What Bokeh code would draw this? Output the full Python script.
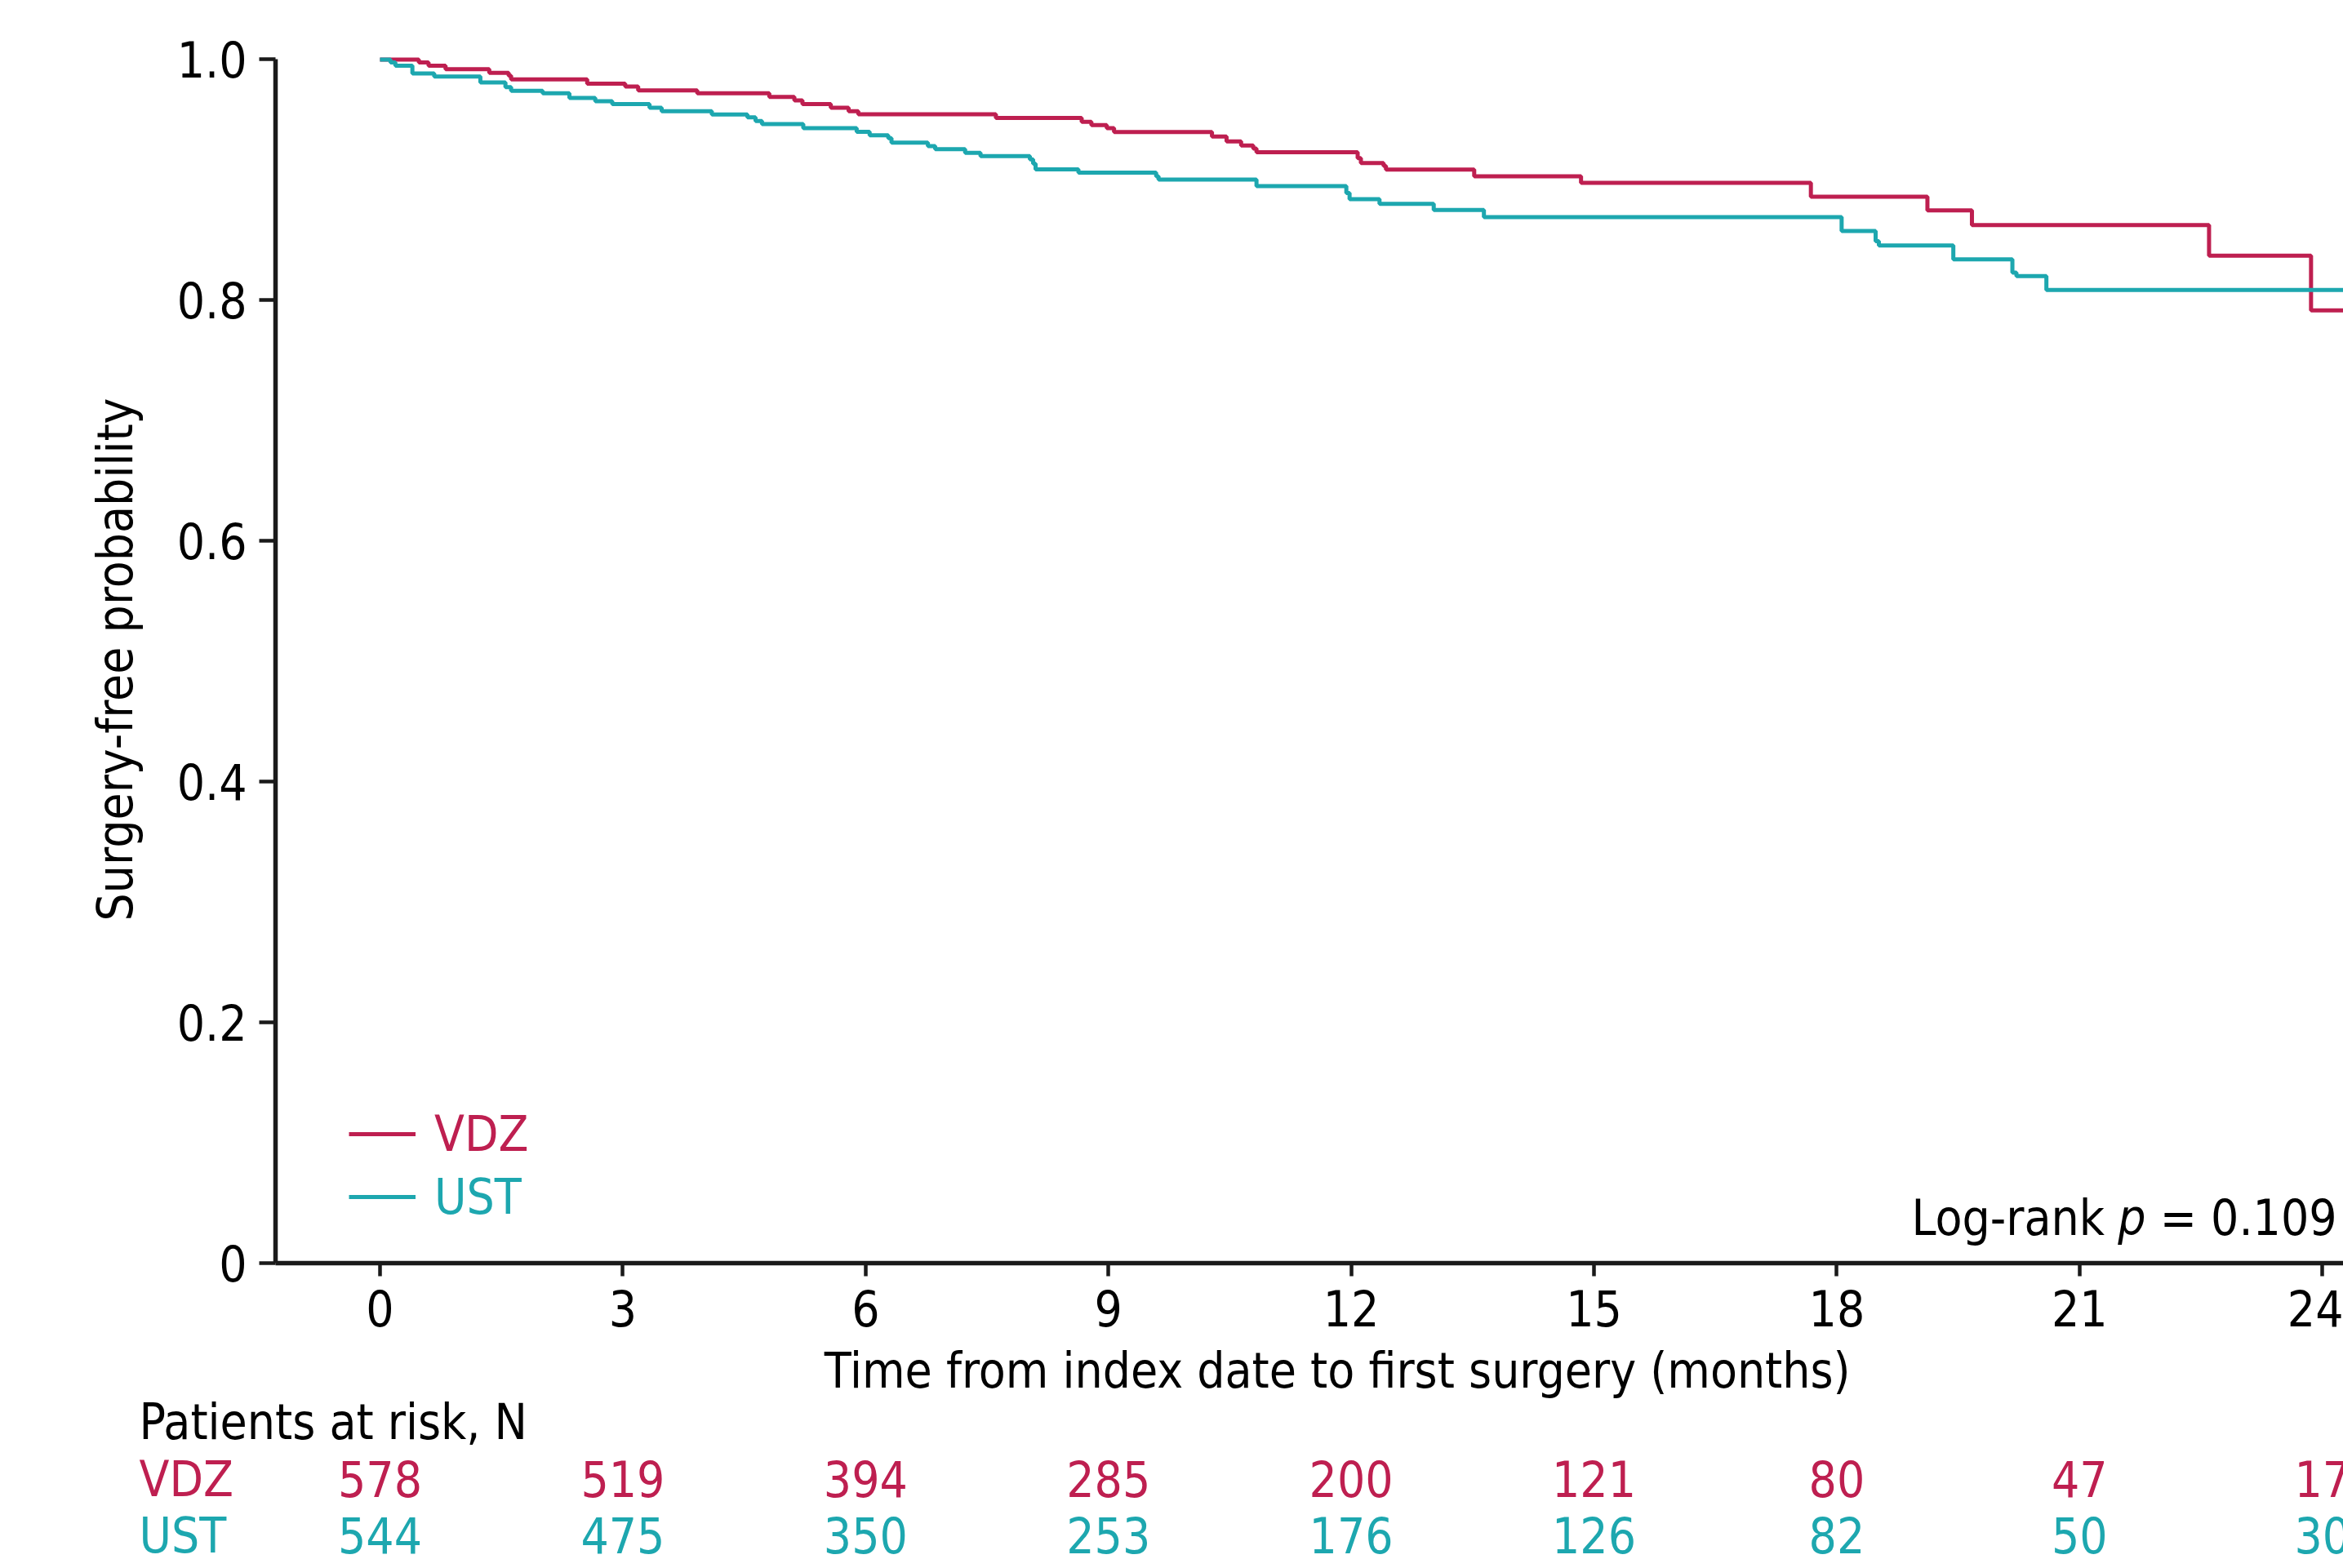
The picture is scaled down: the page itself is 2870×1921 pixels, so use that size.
from bokeh.plotting import figure
from bokeh.layouts import column
from bokeh.models import Range1d, FixedTicker, Label, Legend, LegendItem
from bokeh.core.properties import value
from bokeh.embed import file_html
from bokeh.resources import INLINE

# ---------------- data ----------------
vdz_t = [0, 0.48, 0.60, 0.81, 1.35, 1.59, 1.62, 2.56, 3.03, 3.19, 3.92, 4.81, 5.12, 5.22,
         5.57, 5.79, 5.91, 7.61, 8.67, 8.79, 8.98, 9.07, 10.28, 10.46, 10.64, 10.79, 10.83,
         12.08, 12.12, 12.40, 12.43, 13.52, 14.84, 17.68, 19.12, 19.67, 22.60, 23.86, 24.5]
vdz_s = [1.0, 0.9975, 0.9948, 0.992, 0.989, 0.9866, 0.9835, 0.980, 0.9776, 0.9744, 0.972,
         0.969, 0.966, 0.963, 0.960, 0.957, 0.9545, 0.9515, 0.9483, 0.9456, 0.943, 0.9398,
         0.936, 0.932, 0.9285, 0.926, 0.923, 0.918, 0.914, 0.9116, 0.9086, 0.903, 0.8976,
         0.886, 0.8747, 0.8625, 0.837, 0.7915, 0.7915]

ust_t = [0, 0.13, 0.19, 0.40, 0.67, 1.24, 1.55, 1.62, 2.01, 2.34, 2.66, 2.87, 3.33, 3.48,
         4.10, 4.54, 4.64, 4.72, 5.23, 5.89, 6.05, 6.28, 6.32, 6.77, 6.86, 7.23, 7.42, 8.03,
         8.07, 8.10, 8.63, 9.59, 9.62, 10.83, 11.94, 11.98, 12.35, 13.02, 13.64, 18.06,
         18.48, 18.52, 19.44, 20.17, 20.22, 20.59, 24.5]
ust_s = [1.0, 0.9975, 0.9948, 0.9885, 0.9858, 0.981, 0.977, 0.974, 0.972, 0.968, 0.9654,
         0.963, 0.960, 0.957, 0.9543, 0.952, 0.949, 0.9464, 0.943, 0.940, 0.937, 0.9347,
         0.931, 0.928, 0.9255, 0.9225, 0.9197, 0.917, 0.9135, 0.9088, 0.906, 0.903, 0.9003,
         0.8948, 0.889, 0.884, 0.880, 0.875, 0.869, 0.8575, 0.849, 0.8455, 0.834, 0.823,
         0.820, 0.8085, 0.8085]

risk_times = [0, 3, 6, 9, 12, 15, 18, 21, 24]
vdz_risk = [578, 519, 394, 285, 200, 121, 80, 47, 17]
ust_risk = [544, 475, 350, 253, 176, 126, 82, 50, 30]

x_ticks = [0, 3, 6, 9, 12, 15, 18, 21, 24]
y_ticks = [0, 0.2, 0.4, 0.6, 0.8, 1.0]
y_tick_labels = ["0", "0.2", "0.4", "0.6", "0.8", "1.0"]

groups = ["VDZ", "UST"]
x_label = "Time from index date to first surgery (months)"
y_label = "Surgery-free probability"
risk_header = "Patients at risk, N"
p_value = "0.109"

# ---------------- style ----------------
VDZ_C = "#BE1F50"
UST_C = "#1DA7AF"
FONT = "'DejaVu Sans Condensed', 'Liberation Sans', sans-serif"
FS = "60px"
AX_C = "#1a1a1a"
W = 2870
X0, X1 = -1.291, 24.26          # main frame x extent (months)
PX_PER_MONTH = 99.13

# ---------------- main KM plot ----------------
p = figure(width=W, height=1637, output_backend="svg", toolbar_location=None,
           x_range=Range1d(X0, X1), y_range=Range1d(0, 1.003),
           min_border_left=337, min_border_right=0, min_border_top=68,
           min_border_bottom=90)
p.outline_line_color = None
p.grid.visible = False
p.frame_align = False

r_vdz = p.step(vdz_t, vdz_s, mode="after", line_color=VDZ_C, line_width=5)
r_ust = p.step(ust_t, ust_s, mode="after", line_color=UST_C, line_width=5)

xa = p.xaxis[0]
xa.ticker = FixedTicker(ticks=x_ticks)
xa.minor_tick_line_color = None
xa.major_tick_out = 16
xa.major_tick_in = 0
xa.major_label_standoff = 16
xa.axis_line_width = 5.5
xa.major_tick_line_width = 4.5
xa.axis_line_color = AX_C
xa.major_tick_line_color = AX_C
xa.major_label_text_font = FONT
xa.major_label_text_font_size = FS
xa.major_label_text_color = "black"

ya = p.yaxis[0]
ya.ticker = FixedTicker(ticks=y_ticks)
ya.major_label_overrides = dict(zip(y_ticks, y_tick_labels))
ya.bounds = (0, 1)
ya.minor_tick_line_color = None
ya.major_tick_out = 20
ya.major_tick_in = 0
ya.major_label_standoff = 15
ya.axis_line_width = 5.5
ya.major_tick_line_width = 4.5
ya.axis_line_color = AX_C
ya.major_tick_line_color = AX_C
ya.major_label_text_font = FONT
ya.major_label_text_font_size = FS
ya.major_label_text_color = "black"
ya.axis_label = y_label
ya.axis_label_text_font = FONT
ya.axis_label_text_font_size = FS
ya.axis_label_text_font_style = "normal"
ya.axis_label_text_color = "black"
ya.axis_label_standoff = 38

for i, (g, r, c) in enumerate(zip(groups, [r_vdz, r_ust], [VDZ_C, UST_C])):
    lg = Legend(items=[LegendItem(label=g, renderers=[r])], location=(90, 44 + 77 * (1 - i)),
                orientation="vertical", padding=0, margin=0, spacing=0,
                glyph_width=82, glyph_height=74, label_height=74, label_standoff=23,
                label_text_font=FONT, label_text_font_size=FS, label_text_color=c,
                border_line_color=None, background_fill_alpha=0)
    p.add_layout(lg)

LR_Y = 0.0224 + 22 / 1474.5
for txt, xr, style in [("= " + p_value, 24.18, "normal"), ("p", 21.82, "italic"),
                       ("Log-rank", 21.31, "normal")]:
    p.add_layout(Label(x=xr, y=LR_Y, text=txt, text_align="right",
                       text_baseline="alphabetic", text_font=FONT, text_font_size=FS,
                       text_font_style=style, text_color="black"))

# ---------------- risk table (below) ----------------
H2 = 283
p2 = figure(width=W, height=H2, output_backend="svg", toolbar_location=None,
            x_range=Range1d(X0 - 337 / PX_PER_MONTH, X1), y_range=Range1d(0, H2),
            min_border=0, min_border_left=0, min_border_right=0, min_border_top=0,
            min_border_bottom=0, x_axis_location=None, y_axis_location=None)
p2.outline_line_color = None
p2.grid.visible = False
p2.frame_align = False

DY = 23
p2.add_layout(Label(x=11.83, y=219 + DY, text=x_label, text_align="center",
                    text_baseline="alphabetic", text_font=FONT, text_font_size=FS,
                    text_color="black"))
ROW_X = -2.976
p2.add_layout(Label(x=ROW_X, y=156 + DY, text=risk_header, text_align="left",
                    text_baseline="alphabetic", text_font=FONT, text_font_size=FS,
                    text_color="black"))
for g, vals, c, yy in zip(groups, [vdz_risk, ust_risk], [VDZ_C, UST_C], [86 + DY, 17 + DY]):
    p2.add_layout(Label(x=ROW_X, y=yy, text=g, text_align="left",
                        text_baseline="alphabetic", text_font=FONT, text_font_size=FS,
                        text_color=c))
    p2.text(x=risk_times, y=[yy] * len(risk_times), text=[str(v) for v in vals],
            text_align="center", text_baseline="alphabetic", text_font=value(FONT),
            text_font_size=value(FS), text_color=c)

layout = column(p, p2, spacing=0)
open("out.html", "w").write(file_html(layout, INLINE))
